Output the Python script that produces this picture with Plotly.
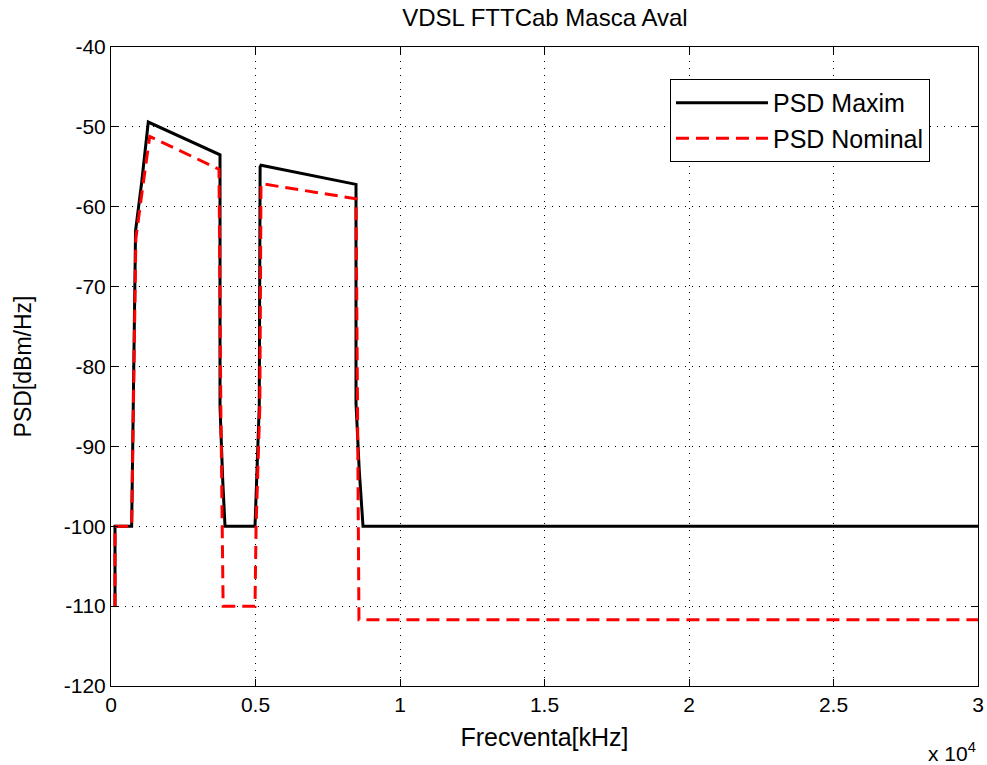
import plotly.graph_objects as go

# ---- data (frequency in kHz, PSD in dBm/Hz) ----
freq_max = [138, 138, 715, 770, 850, 1060, 1290, 3772, 3772, 3865, 3945,
            4983, 5050, 5130, 5160, 5190, 8478, 8478, 8590, 8670, 8720, 30000]
psd_max = [-110, -100, -100, -86, -63, -57, -49.4, -53.5, -85, -94.2, -100,
           -100, -94, -85, -55, -54.8, -57.2, -84.6, -93, -97, -100, -100]

freq_nom = [138, 138, 715, 780, 860, 1080, 1340, 3737, 3800, 3880,
            4983, 5020, 5080, 5150, 5190, 8478, 8530, 8580, 30000]
psd_nom = [-110, -100, -100, -86, -64, -58, -51.2, -55.3, -85, -110,
           -110, -100, -94, -85, -57.1, -59, -85, -111.7, -111.7]

x_tickvals = [0, 5000, 10000, 15000, 20000, 25000, 30000]
x_ticktext = ["0", "0.5", "1", "1.5", "2", "2.5", "3"]
y_tickvals = [-120, -110, -100, -90, -80, -70, -60, -50, -40]
y_ticktext = ["-120", "-110", "-100", "-90", "-80", "-70", "-60", "-50", "-40"]

FONT = "Liberation Sans, Arial, sans-serif"

fig = go.Figure()
fig.add_trace(go.Scatter(
    x=freq_max, y=psd_max, mode="lines", name="PSD Maxim",
    line=dict(color="black", width=3)))
fig.add_trace(go.Scatter(
    x=freq_nom, y=psd_nom, mode="lines", name="PSD Nominal",
    line=dict(color="#ff0000", width=3, dash="13px,7px")))

axis_common = dict(
    showline=True, linecolor="black", linewidth=1, mirror="ticks",
    ticks="inside", ticklen=7, tickcolor="black", tickwidth=1,
    showgrid=True, gridcolor="black", gridwidth=1, griddash="1px,6px",
    zeroline=False, automargin=False,
    tickfont=dict(family=FONT, size=21, color="black"),
)

fig.update_layout(
    width=987, height=765,
    paper_bgcolor="white", plot_bgcolor="white",
    margin=dict(l=111, r=9, t=47, b=79),
    title=dict(text="VDSL FTTCab Masca Aval", x=0.5521, xanchor="center",
               y=0.977, yanchor="middle",
               font=dict(family=FONT, size=24, color="black")),
    xaxis=dict(range=[0, 30000], tickvals=x_tickvals, ticktext=x_ticktext,
               title=dict(text="Frecventa[kHz]", standoff=13,
                          font=dict(family=FONT, size=25, color="black")),
               **axis_common),
    yaxis=dict(range=[-120, -40], tickvals=y_tickvals, ticktext=y_ticktext,
               title=dict(text="PSD[dBm/Hz]", standoff=25,
                          font=dict(family=FONT, size=23, color="black")),
               **axis_common),
    legend=dict(x=0.9446, xanchor="right", y=0.95, yanchor="top",
                bgcolor="white", bordercolor="black", borderwidth=1,
                itemwidth=92,
                font=dict(family=FONT, size=25, color="black")),
    showlegend=True,
)

fig.add_annotation(
    text="x 10<sup>4</sup>", xref="paper", yref="paper",
    x=1.0, y=-0.08, xanchor="right", yanchor="top", showarrow=False,
    font=dict(family=FONT, size=21, color="black"))

fig.write_html("out.html")
